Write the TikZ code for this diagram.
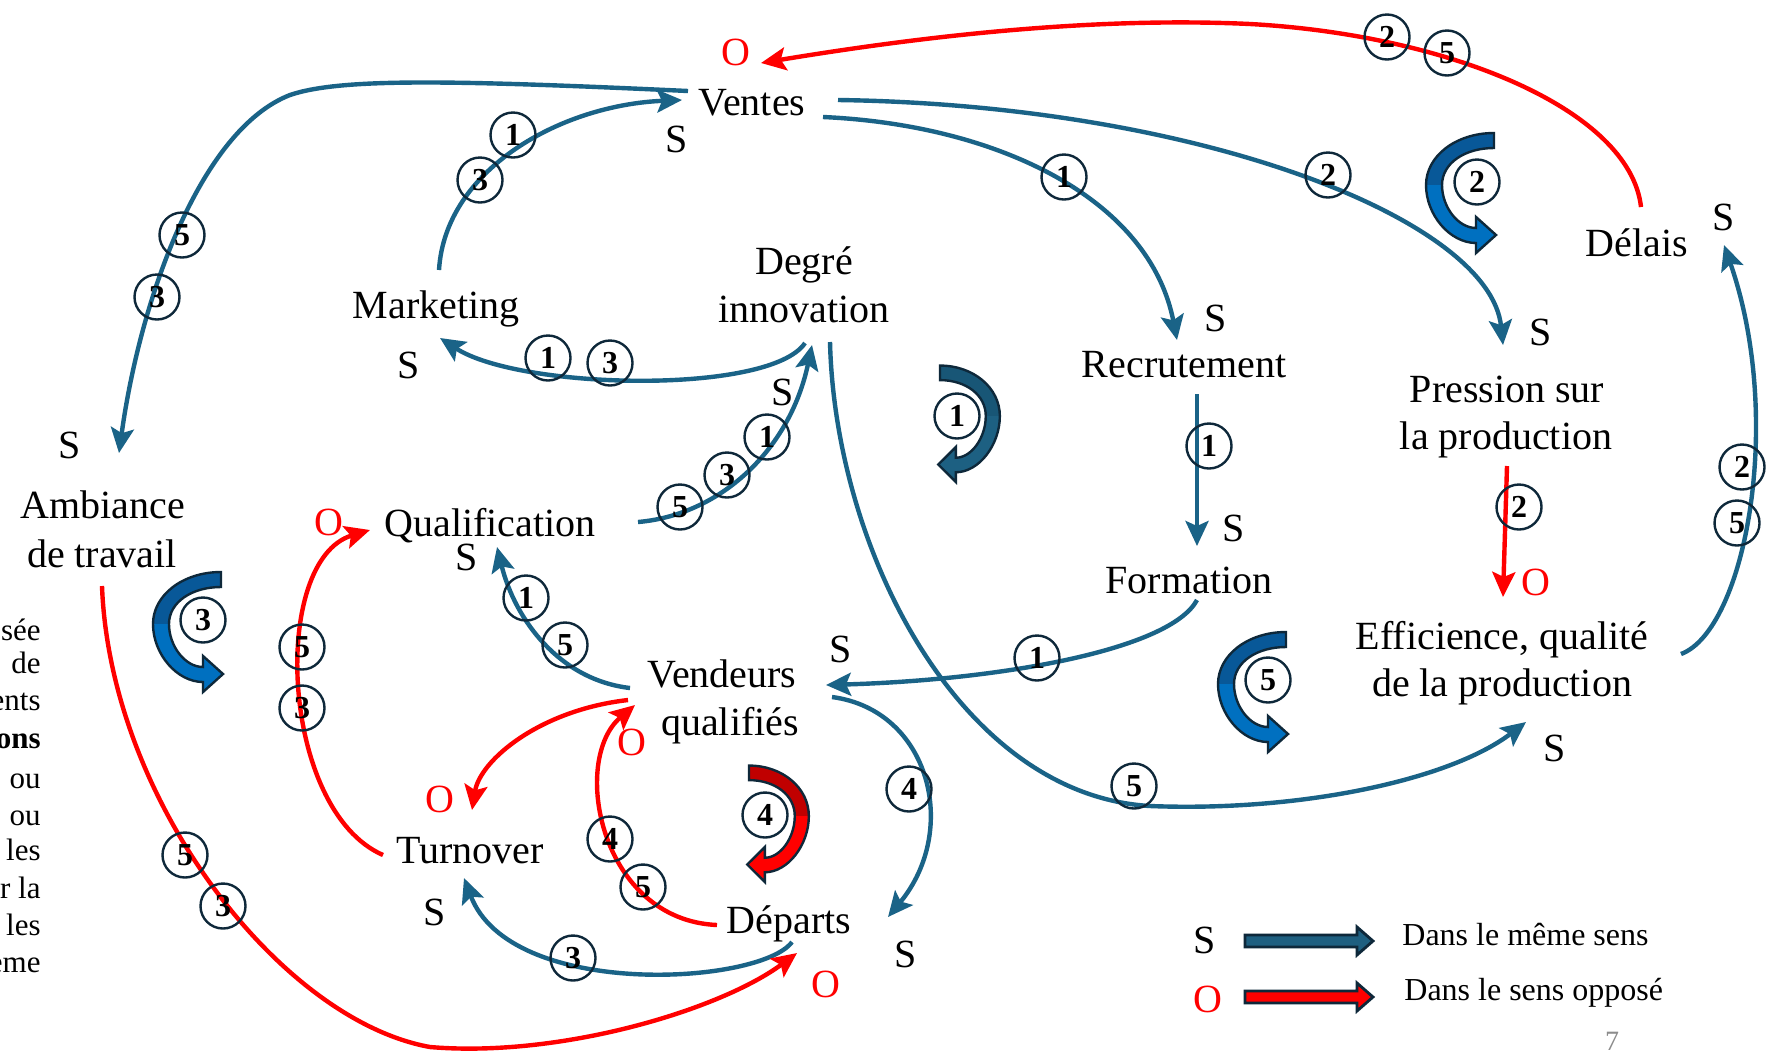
\documentclass[tikz,border=0pt]{standalone}
\usepackage{fontspec}
\setmainfont{Liberation Serif}
\usetikzlibrary{arrows.meta}

\definecolor{linkblue}{RGB}{26,99,135}
\definecolor{linkred}{RGB}{255,0,0}
\definecolor{ink}{RGB}{14,40,58}
\definecolor{loopdark}{RGB}{8,88,152}
\definecolor{looplight}{RGB}{0,112,192}
\definecolor{tealdark}{RGB}{24,86,118}
\definecolor{teallight}{RGB}{29,96,130}
\definecolor{reddark}{RGB}{192,0,0}
\definecolor{legendblue}{RGB}{30,95,128}

\tikzset{
  lbl/.style={font=\fontsize{20}{24}\selectfont, inner sep=0pt, anchor=base},
  sg/.style={lbl},
  og/.style={lbl, text=linkred},
  note/.style={font=\fontsize{15.5}{18}\selectfont, inner sep=0pt, anchor=base east},
  num/.style={circle, draw=ink, line width=1.2pt, minimum size=22.5pt, inner sep=0pt,
              font=\fontsize{16}{16}\selectfont\bfseries},
  tip/.style={-{Stealth[length=12.5pt,width=11.5pt,inset=2.5pt]}},
  samelink/.style={draw=linkblue, line width=2.2pt, tip},
  opplink/.style={draw=linkred, line width=2.2pt, tip},
  legarrow/.style={draw=ink, line width=1.4pt, line join=miter},
  pics/turn/.style n args={3}{code={
    % back half of the ribbon
    \fill[#1] (0,-52) .. controls (-38,-52) and (-68,-29) .. (-68,0)
      -- (-52,0) .. controls (-52,-22) and (-29,-37) .. (0,-37) -- cycle;
    % front half with the head
    \fill[#2] (-68,0) .. controls (-68,30) and (-44,58) .. (-18,58)
      -- (-18,68) -- (2,50) -- (-18,32) -- (-18,43)
      .. controls (-36,43) and (-52,22) .. (-52,0) -- cycle;
    \draw[#3, line width=1.2pt, line join=miter]
      (0,-52) .. controls (-38,-52) and (-68,-29) .. (-68,0)
      .. controls (-68,30) and (-44,58) .. (-18,58)
      -- (-18,68) -- (2,50) -- (-18,32) -- (-18,43)
      .. controls (-36,43) and (-52,22) .. (-52,0)
      .. controls (-52,-22) and (-29,-37) .. (0,-37) -- cycle;
  }}
}

\begin{document}
\begin{tikzpicture}[x=0.5pt,y=-0.5pt]
\useasboundingbox (0,0) rectangle (1775,1056);
\fill[white] (0,0) rectangle (1775,1056);
\clip (0,0) rectangle (1775,1056);

% ---------- variables ----------
\node[lbl] (ventes) at (752,115) {Ventes};
\node[lbl] (marketing) at (436,318) {Marketing};
\node[lbl] (degre) at (804,274) {Degré};
\node[lbl] (degre2) at (804,322) {innovation};
\node[lbl] (recrut) at (1184,377) {Recrutement};
\node[lbl] (pression) at (1507,402) {Pression sur};
\node[lbl] (pression2) at (1506,449) {la production};
\node[lbl] (delais) at (1637,256) {Délais};
\node[lbl] (ambiance) at (103,518) {Ambiance};
\node[lbl] (ambiance2) at (102,567) {de travail};
\node[lbl] (qualif) at (490,536) {Qualification};
\node[lbl] (formation) at (1189,593) {Formation};
\node[lbl] (effic) at (1502,649) {Efficience, qualité};
\node[lbl] (effic2) at (1502,696) {de la production};
\node[lbl] (vendeurs) at (722,687) {Vendeurs};
\node[lbl] (vendeurs2) at (730,735) {qualifiés};
\node[lbl] (turnover) at (470,863) {Turnover};
\node[lbl] (departs) at (789,933) {Départs};

% ---------- polarity marks ----------
\node[sg] (s-ventes) at (677,152) {S};
\node[og] (o-ventes) at (736,65) {O};
\node[sg] (s-mkt) at (409,378) {S};
\node[sg] (s-degre) at (783,405) {S};
\node[sg] (s-recrut) at (1216,331) {S};
\node[sg] (s-pression) at (1541,345) {S};
\node[sg] (s-delais) at (1724,230) {S};
\node[sg] (s-ambiance) at (70,458) {S};
\node[og] (o-qualif) at (329,535) {O};
\node[sg] (s-qualif) at (467,570) {S};
\node[sg] (s-formation) at (1234,541) {S};
\node[og] (o-effic) at (1536,595) {O};
\node[sg] (s-effic) at (1555,761) {S};
\node[sg] (s-vendeurs) at (841,662) {S};
\node[og] (o-vendeurs) at (632,755) {O};
\node[og] (o-turnover) at (440,812) {O};
\node[sg] (s-turnover) at (435,925) {S};
\node[sg] (s-departs) at (906,967) {S};
\node[og] (o-departs) at (826,997) {O};

% ---------- connector ends ----------
\coordinate (vt-west) at (688,91);
\coordinate (vt-in) at (682,100);
\coordinate (vt-east1) at (823,117);
\coordinate (vt-east2) at (838,100);
\coordinate (vt-red) at (761,63);
\coordinate (amb-in) at (119,453);
\coordinate (amb-out) at (102,586);
\coordinate (mkt-out) at (439,270);
\coordinate (mkt-in) at (440,338);
\coordinate (dg-out1) at (805,343);
\coordinate (dg-out2) at (830,342);
\coordinate (dg-in) at (812,345);
\coordinate (rc-in) at (1177,340);
\coordinate (rc-out) at (1197,394);
\coordinate (fm-in) at (1197,546);
\coordinate (fm-out) at (1197,600);
\coordinate (pr-in) at (1503,345);
\coordinate (pr-out) at (1507,466);
\coordinate (ef-in1) at (1503,597);
\coordinate (ef-in2) at (1526,722);
\coordinate (ef-out) at (1681,654);
\coordinate (dl-in) at (1724,245);
\coordinate (dl-out) at (1641,207);
\coordinate (ql-out) at (638,522);
\coordinate (ql-in1) at (497,547);
\coordinate (ql-in2) at (370,530);
\coordinate (vd-in1) at (826,685);
\coordinate (vd-in2) at (635,705);
\coordinate (vd-out1) at (630,688);
\coordinate (vd-out2) at (628,700);
\coordinate (vd-out3) at (832,697);
\coordinate (to-in1) at (472,810);
\coordinate (to-in2) at (464,878);
\coordinate (to-out) at (383,855);
\coordinate (dp-in1) at (888,917);
\coordinate (dp-in2) at (797,953);
\coordinate (dp-out1) at (717,925);
\coordinate (dp-out2) at (792,942);

% ---------- same-direction links ----------
\draw[samelink] (vt-west) .. controls (450,80) and (340,78) .. (290,95)
   .. controls (200,130) and (140,300) .. (amb-in);
\draw[samelink] (mkt-out) .. controls (445,170) and (560,105) .. (vt-in);
\draw[samelink] (vt-east1) .. controls (1000,125) and (1150,200) .. (rc-in);
\draw[samelink] (vt-east2) .. controls (1200,105) and (1490,220) .. (pr-in);
\draw[samelink] (dg-out1) .. controls (770,395) and (520,390) .. (mkt-in);
\draw[samelink] (ql-out) .. controls (720,515) and (790,450) .. (dg-in);
\draw[samelink] (dg-out2) .. controls (835,550) and (960,795) .. (1150,806)
   .. controls (1300,812) and (1450,780) .. (ef-in2);
\draw[samelink] (rc-out) -- (fm-in);
\draw[samelink] (ef-out) .. controls (1745,630) and (1785,420) .. (dl-in);
\draw[samelink] (fm-out) .. controls (1170,650) and (1000,680) .. (vd-in1);
\draw[samelink] (vd-out1) .. controls (560,680) and (515,620) .. (ql-in1);
\draw[samelink] (vd-out3) .. controls (930,710) and (960,830) .. (dp-in1);
\draw[samelink] (dp-out2) .. controls (760,985) and (510,1000) .. (to-in2);

% ---------- opposite-direction links ----------
\draw[opplink] (dl-out) .. controls (1630,110) and (1450,35) .. (1250,24)
   .. controls (1080,16) and (900,40) .. (vt-red);
\draw[opplink] (pr-out) -- (ef-in1);
\draw[opplink] (to-out) .. controls (280,810) and (270,560) .. (ql-in2);
\draw[opplink] (vd-out2) .. controls (540,710) and (480,760) .. (to-in1);
\draw[opplink] (dp-out1) .. controls (600,920) and (570,760) .. (vd-in2);
\draw[opplink] (amb-out) .. controls (110,800) and (280,1020) .. (430,1047)
   .. controls (560,1058) and (720,1010) .. (dp-in2);

% ---------- loop numbers on the links ----------
\node[num] (m1) at (513,135) {1};
\node[num] (m2) at (480,180) {3};
\node[num] (m3) at (182,235) {5};
\node[num] (m4) at (157,297) {3};
\node[num] (m5) at (548,358) {1};
\node[num] (m6) at (610,363) {3};
\node[num] (m7) at (680,507) {5};
\node[num] (m8) at (727,475) {3};
\node[num] (m9) at (767,437) {1};
\node[num] (m10) at (1064,177) {1};
\node[num] (m11) at (1328,175) {2};
\node[num] (m12) at (1387,37) {2};
\node[num] (m13) at (1447,53) {5};
\node[num] (m14) at (1209,446) {1};
\node[num] (m15) at (1519,507) {2};
\node[num] (m16) at (1742,467) {2};
\node[num] (m17) at (1737,523) {5};
\node[num] (m18) at (1037,658) {1};
\node[num] (m19) at (526,598) {1};
\node[num] (m20) at (565,645) {5};
\node[num] (m21) at (302,647) {5};
\node[num] (m22) at (302,708) {3};
\node[num] (m23) at (610,839) {4};
\node[num] (m24) at (643,887) {5};
\node[num] (m25) at (909,789) {4};
\node[num] (m26) at (573,958) {3};
\node[num] (m27) at (185,855) {5};
\node[num] (m28) at (223,906) {3};
\node[num] (m29) at (1134,786) {5};

% ---------- loop direction markers ----------
\pic[xscale=-0.88,yscale=0.97] at (940,416) {turn={tealdark}{teallight}{ink}};
\pic at (1494,185) {turn={loopdark}{looplight}{ink}};
\pic at (221,624) {turn={loopdark}{looplight}{ink}};
\pic[xscale=-0.88,yscale=0.97] at (749,816) {turn={reddark}{linkred}{ink}};
\pic at (1286,684) {turn={loopdark}{looplight}{ink}};
\node[num] (l1) at (957,416) {1};
\node[num] (l2) at (1477,182) {2};
\node[num] (l3) at (203,620) {3};
\node[num] (l4) at (765,815) {4};
\node[num] (l5) at (1268,680) {5};

% ---------- legend ----------
\node[sg] (leg-s) at (1205,953) {S};
\node[og] (leg-o) at (1208,1012) {O};
\fill[legendblue] (1245,935) -- (1357,935) -- (1357,927) -- (1373,941) -- (1357,955) -- (1357,947) -- (1245,947) -- cycle;
\draw[legarrow] (1245,935) -- (1357,935) -- (1357,927) -- (1373,941) -- (1357,955) -- (1357,947) -- (1245,947) -- cycle;
\fill[linkred] (1245,991) -- (1357,991) -- (1357,983) -- (1373,997) -- (1357,1011) -- (1357,1003) -- (1245,1003) -- cycle;
\draw[legarrow] (1245,991) -- (1357,991) -- (1357,983) -- (1373,997) -- (1357,1011) -- (1357,1003) -- (1245,1003) -- cycle;
\node[font=\fontsize{16}{19}\selectfont, inner sep=0pt, anchor=base west] (leg-same) at (1402,945) {Dans le même sens};
\node[font=\fontsize{16}{19}\selectfont, inner sep=0pt, anchor=base west] (leg-opp) at (1404,1000) {Dans le sens opposé};

% ---------- page number ----------
\node[font=\fontsize{14}{16}\selectfont, text=black!45, inner sep=0pt, anchor=base] (page) at (1612,1050) {7};

% ---------- side text column ----------
\node[note] (t1) at (41,640) {sée};
\node[note] (t2) at (41,673) {de};
\node[note] (t3) at (41,710) {ents};
\node[note] (t4) at (41,748) {\textbf{ons}};
\node[note] (t5) at (41,788) {ou};
\node[note] (t6) at (41,825) {ou};
\node[note] (t7) at (41,860) {les};
\node[note] (t8) at (41,898) {r la};
\node[note] (t9) at (41,935) {les};
\node[note] (t10) at (41,972) {eme};
\end{tikzpicture}
\end{document}
